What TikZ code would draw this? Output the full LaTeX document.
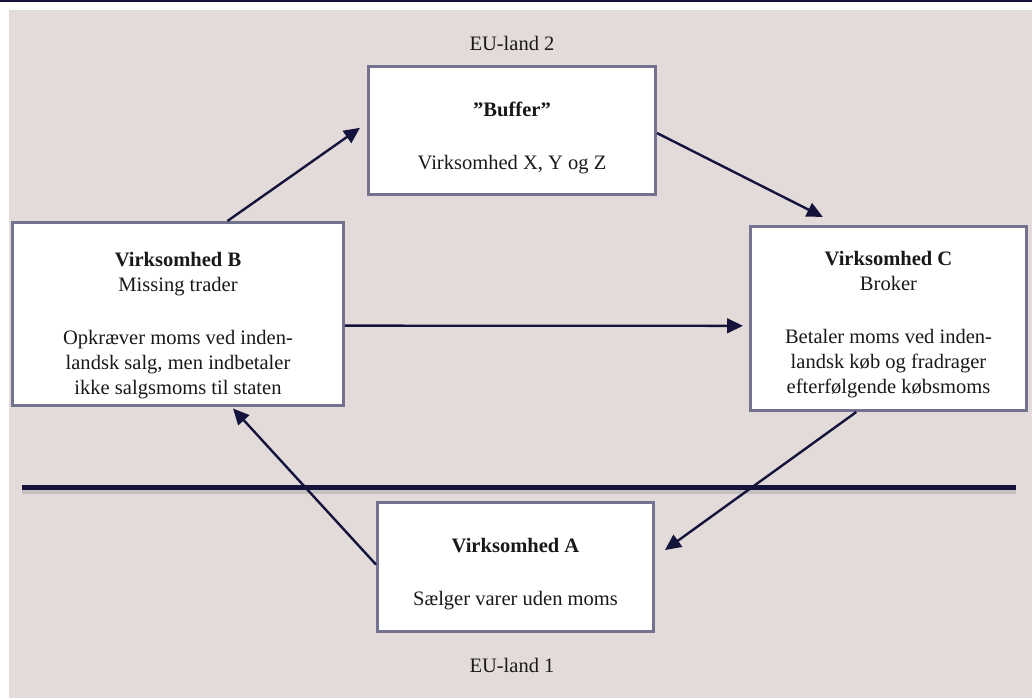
\documentclass[tikz,border=0pt]{standalone}
\usepackage{fontspec}
\setmainfont{Liberation Serif}
\usetikzlibrary{arrows.meta}

\definecolor{navy}{RGB}{20,19,60}
\definecolor{rammegraa}{RGB}{116,115,143}
\definecolor{baggrund}{RGB}{227,219,217}

\begin{document}
\begin{tikzpicture}[x=0.75pt,y=0.75pt,yscale=-1,xscale=1,
  firma/.style={draw=rammegraa, line width=2.25pt, fill=white, inner sep=0pt},
  tekst/.style={align=center, inner sep=0pt, text=black!90, font=\fontsize{15.4}{18.75}\selectfont},
  pil/.style={draw=navy, line width=1.8pt, -{Triangle[length=12pt,width=11pt]}}]
\useasboundingbox (0,0) rectangle (1032,699);

%Shape: Rectangle
\fill [navy] (0,0) rectangle (1032,2.5);
%Shape: Rectangle
\fill [baggrund] (9,10) rectangle (1032,698);

%Straight Lines
\draw [line width=4pt, black!35, opacity=0.5] (22,491) -- (1016,491);
\draw [line width=3.75pt, navy] (22,487) -- (1016,487);

%Shape: Rectangle
\node [firma, minimum width=215.25pt, minimum height=96pt] (buf) at (512,130.5) {};
%Shape: Rectangle
\node [firma, minimum width=248.25pt, minimum height=137.25pt] (b) at (178,314) {};
%Shape: Rectangle
\node [firma, minimum width=207pt, minimum height=138pt] (c) at (888.5,318.5) {};
%Shape: Rectangle
\node [firma, minimum width=207pt, minimum height=96.75pt] (a) at (515.5,567) {};

% Text Node
\node [tekst, anchor=north] (buftxt) at (512,101.3) {\textbf{”Buffer”}\\[21pt]Virksomhed X, Y og Z};
% Text Node
\node [tekst, anchor=north] (btxt) at (178,252.3) {\textbf{Virksomhed B}\\Missing trader\\[21pt]Opkræver moms ved inden-\\landsk salg, men indbetaler\\ikke salgsmoms til staten};
% Text Node
\node [tekst, anchor=north] (ctxt) at (888.5,251.3) {\textbf{Virksomhed C}\\Broker\\[21pt]Betaler moms ved inden-\\landsk køb og fradrager\\efterfølgende købsmoms};
% Text Node
\node [tekst, anchor=north] (atxt) at (515.5,538.3) {\textbf{Virksomhed A}\\[21pt]Sælger varer uden moms};
% Text Node
\node [tekst] (eu2) at (512,43) {EU-land 2};
% Text Node
\node [tekst] (eu1) at (512,665) {EU-land 1};

%Straight Lines
\draw [pil, shorten >=6.4pt] (b.62.7) -- (buf.177.1);
\draw [pil, shorten >=13.4pt] (buf.-1.4) -- (c.118.4);
\draw [pil, shorten >=4.5pt] (b.-4.8) -- (c.183.1);
\draw [pil, shorten >=9.2pt] (c.251.9) -- (a.4.9);
\draw [pil, shorten >=1.5pt] (a.179.6) -- (b.-60.8);

\end{tikzpicture}
\end{document}
